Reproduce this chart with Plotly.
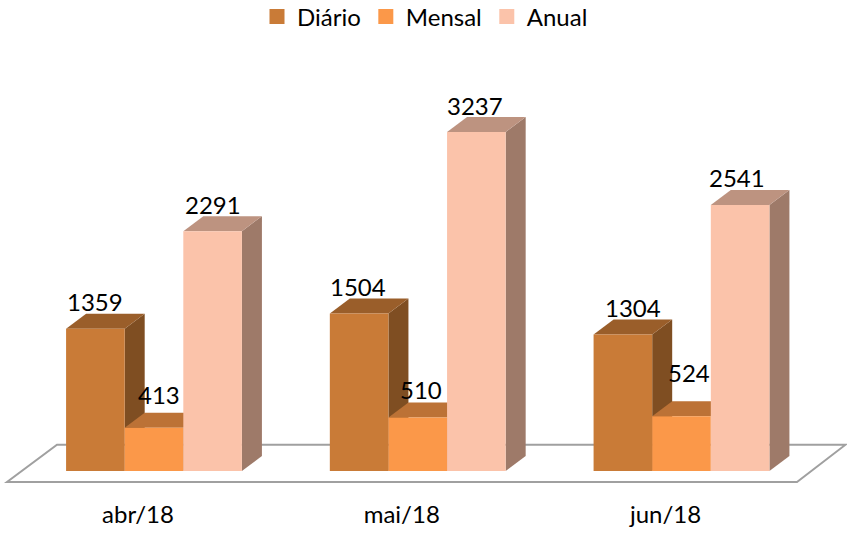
import plotly.graph_objects as go

categories = ["abr/18", "mai/18", "jun/18"]
series_names = ["Diário", "Mensal", "Anual"]
diario = [1359, 1504, 1304]
mensal = [413, 510, 524]
anual = [2291, 3237, 2541]
series_values = [diario, mensal, anual]

front_colors = ["#C97B37", "#FB9849", "#FBC3AA"]
top_colors = ["#9A5E2A", "#BC7236", "#BD9380"]
side_colors = ["#7F4E22", "#B86F33", "#9E7A69"]

# label nudges in pixels relative to the centre of each front-top edge
label_dx = [[0, 5, 0], [-1, 3, -1], [10, 7, -3]]
label_dy = [[27, 33, 27], [27, 28, 27], [27, 44, 27]]

W, H = 847, 535
M_T, M_B = 40, 38
X_PER = 263.75
Y_PER = 0.1047
X0_PX, Y0_PX = 154, 471
TICK_SHIFT_PX = -16
x_range = [-X0_PX / X_PER, (W - X0_PX) / X_PER]
y_range = [-(H - M_B - Y0_PX) / Y_PER, (Y0_PX - M_T) / Y_PER]

BARGAP = 1 / 3
bw = (1 - BARGAP) / 3
dx = 20 / X_PER
dy = 15 / Y_PER

fig = go.Figure()

# depth faces
for s, vals in enumerate(series_values):
    for c, v in enumerate(vals):
        x0 = c + (s - 1.5) * bw
        x1 = x0 + bw
        fig.add_trace(go.Scatter(
            x=[x1, x1 + dx, x1 + dx, x1, x1], y=[0, dy, v + dy, v, 0],
            mode="lines", fill="toself", fillcolor=side_colors[s],
            line=dict(width=0), showlegend=False, hoverinfo="skip"))
        fig.add_trace(go.Scatter(
            x=[x0, x0 + dx, x1 + dx, x1, x0], y=[v, v + dy, v + dy, v, v],
            mode="lines", fill="toself", fillcolor=top_colors[s],
            line=dict(width=0), showlegend=False, hoverinfo="skip"))

# legend entries
for s, name in enumerate(series_names):
    fig.add_trace(go.Scatter(
        x=[None], y=[None], mode="markers", name=name,
        marker=dict(symbol="square", size=15, color=front_colors[s])))

# front faces
for s, name in enumerate(series_names):
    fig.add_trace(go.Bar(
        x=list(range(3)), y=series_values[s], name=name, showlegend=False,
        marker=dict(color=front_colors[s], line=dict(width=0)),
        xaxis="x2", yaxis="y2"))

annotations = []
for s, vals in enumerate(series_values):
    for c, v in enumerate(vals):
        annotations.append(dict(
            x=c + (s - 1) * bw, y=v, xref="x2", yref="y2", text=str(v),
            showarrow=False, xanchor="center", yanchor="middle",
            xshift=label_dx[c][s], yshift=label_dy[c][s],
            font=dict(family="Lato", size=24, color="#000000")))

def fx(p):
    return (p - X0_PX) / X_PER

def fy(p):
    return (Y0_PX - p) / Y_PER

floor = (f"M{fx(7)},{fy(482)} L{fx(797)},{fy(482)} L{fx(845.5)},{fy(444.7)} "
         f"L{fx(57)},{fy(444.7)} Z")

axis_common = dict(showgrid=False, zeroline=False, showline=False)
fig.update_layout(
    width=W, height=H, autosize=False,
    margin=dict(l=0, r=0, t=M_T, b=M_B, pad=0),
    paper_bgcolor="#FFFFFF", plot_bgcolor="#FFFFFF",
    barmode="group", bargap=BARGAP, bargroupgap=0,
    font=dict(family="Lato", size=24, color="#000000"),
    showlegend=True,
    legend=dict(orientation="h", x=0.5 + 1.5 / W, xanchor="center", xref="container",
                y=1 - 17 / H, yanchor="middle", yref="container",
                font=dict(family="Lato", size=24), itemwidth=30, bgcolor="rgba(0,0,0,0)"),
    xaxis=dict(range=x_range, tickmode="array",
               tickvals=[c + TICK_SHIFT_PX / X_PER for c in range(3)], ticktext=categories,
               ticks="", ticklen=0, ticklabelstandoff=1, automargin=False,
               tickfont=dict(family="Lato", size=24), **axis_common),
    yaxis=dict(range=y_range, showticklabels=False, ticks="", automargin=False, **axis_common),
    xaxis2=dict(range=x_range, overlaying="x", matches="x", visible=False, **axis_common),
    yaxis2=dict(range=y_range, overlaying="y", matches="y", visible=False, **axis_common),
    shapes=[dict(type="path", path=floor, xref="x", yref="y", layer="below",
                 line=dict(color="#A0A0A0", width=2), fillcolor="rgba(0,0,0,0)")],
    annotations=annotations,
)

fig.write_html("out.html", post_script="document.body.style.margin='0';",
               config=dict(displayModeBar=False))
